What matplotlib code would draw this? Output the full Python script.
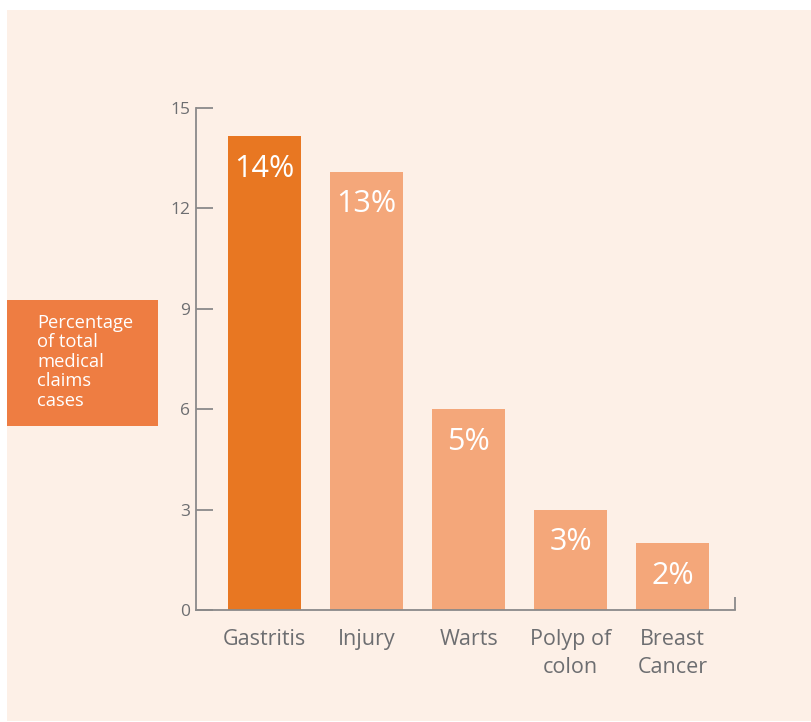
import matplotlib.pyplot as plt
from matplotlib.patches import Rectangle

categories = ["Gastritis", "Injury", "Warts", "Polyp of\ncolon", "Breast\nCancer"]
values = [14.15, 13.1, 6.0, 3.0, 2.0]
bar_labels = ["14%", "13%", "5%", "3%", "2%"]
yticks = [0, 3, 6, 9, 12, 15]

W, H = 811, 722
bg = "#FDF0E7"
dark = "#E87722"
light = "#F4A77A"
grey = "#6D6E71"
axis_grey = "#8A8A8A"

plt.rcParams['font.family'] = ['Open Sans', 'DejaVu Sans']

fig = plt.figure(figsize=(W / 100, H / 100), dpi=100)
fig.patch.set_facecolor("white")

# background panel
fig.patches.append(Rectangle((7 / W, 1 - 721 / H), 1, (721 - 10) / H,
                             transform=fig.transFigure, facecolor=bg,
                             edgecolor="none", zorder=-2))

ax = fig.add_axes([196 / W, 1 - 610 / H, (735 - 196) / W, (610 - 108) / H])
ax.set_facecolor("none")
ax.set_zorder(3)

x = list(range(len(categories)))
colors = [dark] + [light] * (len(categories) - 1)
ax.bar(x, values, width=0.71, color=colors, zorder=2)

for xi, v, lab in zip(x, values, bar_labels):
    ax.text(xi, v - 0.97, lab, ha="center", va="center", color="white",
            fontsize=22, zorder=3)

ax.set_xlim(-0.67, 4.61)
ax.set_ylim(0, 15)
ax.set_yticks(yticks)
ax.set_xticks(x)
ax.set_xticklabels(categories, fontsize=15.5, color=grey, linespacing=1.4)
ax.tick_params(axis="x", length=0, pad=14)
ax.tick_params(axis="y", direction="in", length=12, width=1.3, color=axis_grey,
               labelsize=12.5, labelcolor=grey, pad=4)

for s in ["top", "right"]:
    ax.spines[s].set_visible(False)
for s in ["left", "bottom"]:
    ax.spines[s].set_color(axis_grey)
    ax.spines[s].set_linewidth(1.3)

# small end tick on right of x axis
ax.plot([4.61, 4.61], [0, 0.38], color=axis_grey, lw=1.3, clip_on=False,
        solid_capstyle="butt")

# label box on the left
fig.patches.append(Rectangle((7 / W, 1 - 426 / H), (158 - 7) / W, (426 - 300) / H,
                             transform=fig.transFigure, facecolor="#EE7D42",
                             edgecolor="none", zorder=-1))
fig.text(37 / W, 1 - 314 / H, "Percentage\nof total\nmedical\nclaims\ncases",
         color="white", fontsize=13.2, va="top", ha="left", linespacing=1.1)

fig.savefig("out.png", dpi=100)
